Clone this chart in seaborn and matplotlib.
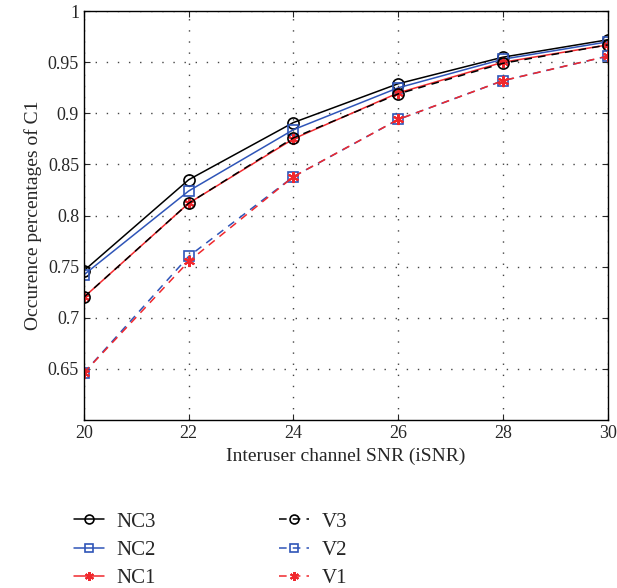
import numpy as np
import pandas as pd
import seaborn as sns
import matplotlib
matplotlib.use("Agg")
import matplotlib.pyplot as plt

isnr = [20, 22, 24, 26, 28, 30]
nc3 = [0.746, 0.835, 0.891, 0.929, 0.955, 0.972]
nc2 = [0.742, 0.824, 0.884, 0.925, 0.953, 0.970]
nc1 = [0.720, 0.812, 0.875, 0.920, 0.950, 0.967]
v3 = [0.720, 0.812, 0.876, 0.919, 0.949, 0.967]
v2 = [0.646, 0.760, 0.838, 0.894, 0.932, 0.956]
v1 = [0.646, 0.755, 0.838, 0.894, 0.932, 0.956]

series_names = ["NC3", "NC2", "NC1", "V3", "V2", "V1"]
series_vals = [nc3, nc2, nc1, v3, v2, v1]

black, blue, red = "#000000", "#2f55b8", "#f0282d"
dash = (0, (5, 4))
asterisk = (6, 2, 0)
styles = {
    "NC3": dict(color=black, ls="-", marker="o"),
    "NC2": dict(color=blue, ls="-", marker="s"),
    "NC1": dict(color=red, ls="-", marker=asterisk),
    "V3": dict(color=black, ls=dash, marker="o"),
    "V2": dict(color=blue, ls=dash, marker="s"),
    "V1": dict(color=red, ls=dash, marker=asterisk),
}

df = pd.DataFrame(
    [(name, x, y) for name, vals in zip(series_names, series_vals) for x, y in zip(isnr, vals)],
    columns=["series", "isnr", "value"],
)

sns.set_style("ticks")
plt.rcParams["font.family"] = ["Liberation Serif", "DejaVu Serif"]
plt.rcParams["xtick.direction"] = "in"
plt.rcParams["ytick.direction"] = "in"

fig = plt.figure(figsize=(6.17, 5.88), dpi=100)
ax = fig.add_axes([0.136, 0.286, 0.849, 0.695])

for name in series_names:
    st = styles[name]
    sub = df[df["series"] == name]
    mk = st["marker"]
    sns.lineplot(
        data=sub, x="isnr", y="value", ax=ax, label=name,
        color=st["color"], linestyle=st["ls"], linewidth=1.1,
        marker=mk, markersize=8 if mk != "s" else 7,
        markerfacecolor="none",
        markeredgecolor=st["color"], markeredgewidth=1.5 if mk == asterisk else 1.2,
    )

ax.set_xlim(20, 30)
ax.set_ylim(0.6, 1.0)
ax.set_xticks([20, 22, 24, 26, 28, 30])
ax.set_yticks([0.65, 0.7, 0.75, 0.8, 0.85, 0.9, 0.95, 1.0])
ax.set_yticklabels(["0.65", "0.7", "0.75", "0.8", "0.85", "0.9", "0.95", "1"])
ax.grid(True, color="#444444", linestyle=(0, (1, 7)), linewidth=1.0)
ax.tick_params(labelsize=13, length=4, top=True, right=True)
for sp in ax.spines.values():
    sp.set_color("black")
    sp.set_linewidth(1.0)
ax.set_xlabel("Interuser channel SNR (iSNR)", fontsize=14)
ax.set_ylabel("Occurence percentages of C1", fontsize=14)

handles, labels = ax.get_legend_handles_labels()
ax.legend(
    handles, labels,
    loc="upper left", bbox_to_anchor=(-0.055, -0.18), ncol=2, frameon=False,
    fontsize=15, handlelength=1.45, handletextpad=0.6, columnspacing=5.9,
    labelspacing=0.42, markerscale=0.8,
)

fig.savefig("out.png", dpi=100)
